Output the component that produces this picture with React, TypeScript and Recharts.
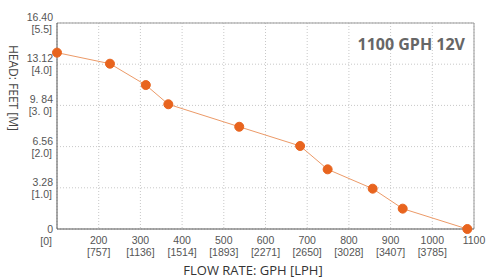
import { LineChart, Line, XAxis, YAxis, CartesianGrid, ReferenceLine } from 'recharts';

// pump curve
const flowGph = [100, 227, 313, 367, 537, 683, 749, 857, 929, 1084];
const headFeet = [14.04, 13.16, 11.46, 9.93, 8.14, 6.61, 4.75, 3.21, 1.62, 0];

const xTicks = [100, 200, 300, 400, 500, 600, 700, 800, 900, 1000, 1100];
const xTickGph = ['', '200', '300', '400', '500', '600', '700', '800', '900', '1000', '1100'];
const xTickLph = ['', '[757]', '[1136]', '[1514]', '[1893]', '[2271]', '[2650]', '[3028]', '[3407]', '[3785]', ''];

const yTicks = [0, 3.28, 6.56, 9.84, 13.12, 16.4];
const yTickFeet = ['0', '3.28', '6.56', '9. 84', '13.12', '16.40'];
const yTickMeters = ['[0]', '[1.0]', '[2.0]', '[3. 0]', '[4.0]', '[5.5]'];

const data = flowGph.map((flow, i) => ({ flow, head: headFeet[i] }));

const tickFont = { fontFamily: '"Liberation Sans", Arial, sans-serif', fontSize: 10.5, fill: '#555' };

function XTick(props: any) {
  const { x, y, payload } = props;
  const i = xTicks.indexOf(payload.value);
  return (
    <g>
      <text x={x} y={y + 7} textAnchor="middle" {...tickFont}>{xTickGph[i]}</text>
      <text x={x} y={y + 19} textAnchor="middle" {...tickFont}>{xTickLph[i]}</text>
    </g>
  );
}

function YTick(props: any) {
  const { x, y, payload } = props;
  const i = yTicks.indexOf(payload.value);
  const shift = i === 0 ? 6 : 0;
  return (
    <g>
      <text x={x + 4} y={y - 2 + shift} textAnchor="end" {...tickFont}>{yTickFeet[i]}</text>
      <text x={x + 3} y={y + 10 + shift} textAnchor="end" {...tickFont}>{yTickMeters[i]}</text>
    </g>
  );
}

export default function App() {
  return (
    <div style={{ position: 'absolute', left: 0, top: 0, width: 487, height: 278 }}>
      <LineChart width={487} height={278} data={data} margin={{ top: 23, right: 13, bottom: 19, left: 7 }}>
        <CartesianGrid stroke="#c8c8c8" strokeDasharray="1 2" />
        <XAxis
          dataKey="flow"
          type="number"
          domain={[100, 1100]}
          ticks={xTicks}
          interval={0}
          height={30}
          tickLine={false}
          stroke="#555"
          tick={<XTick />}
        />
        <YAxis
          type="number"
          domain={[0, 16.4]}
          ticks={yTicks}
          interval={0}
          width={50}
          tickLine={false}
          stroke="#555"
          tick={<YTick />}
        />
        <ReferenceLine y={16.4} stroke="#999" />
        <ReferenceLine x={1100} stroke="#999" />
        <Line
          dataKey="head"
          stroke="#ec9a68"
          strokeWidth={1}
          dot={{ r: 4.5, fill: '#e8641e', stroke: '#e8641e', strokeWidth: 1 }}
          isAnimationActive={false}
        />
      </LineChart>
      <div style={{ position: 'absolute', right: 22, top: 34, fontFamily: '"Open Sans", sans-serif', fontWeight: 700, fontSize: 16, lineHeight: '20px', color: '#666', whiteSpace: 'nowrap' }}>
        1100 GPH 12V
      </div>
      <div style={{ position: 'absolute', left: 253, top: 263, transform: 'translateX(-50%)', fontFamily: '"Open Sans", sans-serif', fontSize: 13, lineHeight: '14px', color: '#333', whiteSpace: 'nowrap' }}>
        FLOW RATE: GPH [LPH]
      </div>
      <div style={{ position: 'absolute', left: 13, top: 88, transform: 'translate(-50%, -50%) rotate(90deg)', fontFamily: '"Open Sans", sans-serif', fontSize: 12, lineHeight: '14px', color: '#444', whiteSpace: 'nowrap' }}>
        HEAD: FEET [M]
      </div>
    </div>
  );
}
